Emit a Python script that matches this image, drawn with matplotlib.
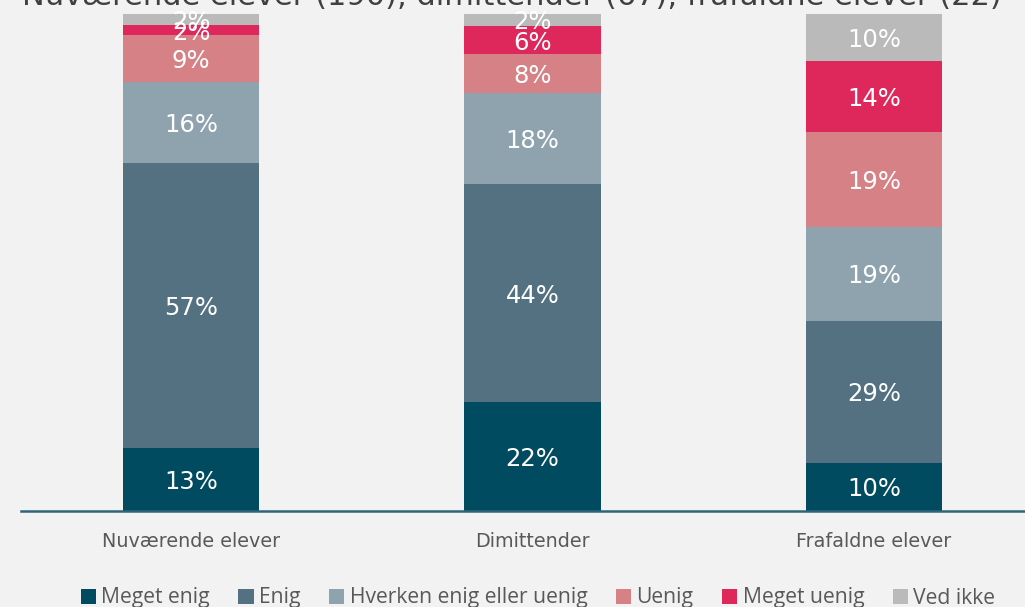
import numpy as np
import matplotlib.pyplot as plt
from matplotlib.patches import Patch

# Data
groups = ['Nuværende elever', 'Dimittender', 'Frafaldne elever']
answers = ['Meget enig', 'Enig', 'Hverken enig eller uenig', 'Uenig', 'Meget uenig', 'Ved ikke']
meget_enig = [12.6, 21.9, 9.7]
enig = [57.4, 43.8, 28.6]
hverken = [16.3, 18.4, 18.9]
uenig = [9.4, 7.8, 19.0]
meget_uenig = [2.1, 5.7, 14.3]
ved_ikke = [2.2, 2.4, 9.5]
title = 'Nuværende elever (190), dimittender (67), frafaldne elever (22)'

colors = ['#004b5f', '#537180', '#8fa3af', '#d58185', '#de285c', '#bababa']
bg = '#f2f2f2'

series = [meget_enig, enig, hverken, uenig, meget_uenig, ved_ikke]

fig = plt.figure(figsize=(10.25, 6.07), dpi=100, facecolor=bg)
W, H = 1025, 607
ax = fig.add_axes([21 / W, 1 - 511 / H, 1 - 21 / W, 497 / H])
ax.set_facecolor(bg)

x = np.arange(len(groups))
bottom = np.zeros(len(groups))
for vals, col in zip(series, colors):
    vals = np.array(vals)
    ax.bar(x, vals, 0.401, bottom=bottom, color=col, edgecolor='none')
    for xi, b, v in zip(x, bottom, vals):
        ax.text(xi, b + v / 2, f'{round(v)}%', ha='center', va='center_baseline',
                color='white', fontsize=17.5, family='DejaVu Sans')
    bottom += vals

ax.set_xlim((21 - 191) / 341.5, (1025 - 191) / 341.5)
ax.set_ylim(0, 100)
for s in ['top', 'right', 'left']:
    ax.spines[s].set_visible(False)
ax.spines['bottom'].set_color('#2e6579')
ax.spines['bottom'].set_linewidth(1.8)
ax.set_yticks([])
ax.set_xticks(x)
ax.set_xticklabels(groups, fontsize=13.8, color='#595959', family='DejaVu Sans')
ax.tick_params(axis='x', length=0, pad=15)

fig.text(22 / W, 1 - 5 / H, title, ha='left', va='baseline', fontsize=22,
         color='#404040', family='DejaVu Sans')

handles = [Patch(facecolor=c, edgecolor='none') for c in colors]
fig.legend(handles, answers, loc='center', bbox_to_anchor=(538 / W, 1 - 598 / H),
           ncol=6, frameon=False, handlelength=0.72, handleheight=0.72,
           handletextpad=0.25, columnspacing=1.36, labelcolor='#595959',
           prop={'family': 'Open Sans', 'size': 15.2})

fig.savefig('out.png', dpi=100, facecolor=bg)
